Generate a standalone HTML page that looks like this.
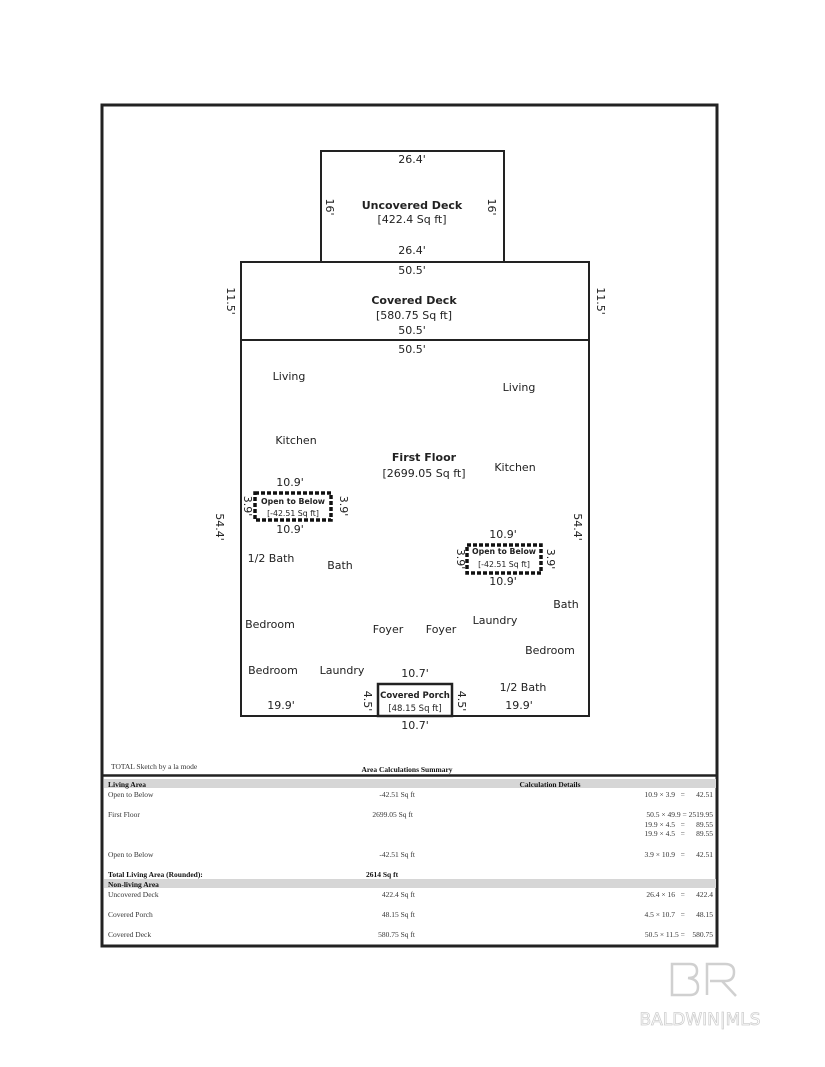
<!DOCTYPE html>
<html><head><style>
body{margin:0;background:#fff}
svg{display:block}
text{font-family:"DejaVu Sans",sans-serif;fill:#222;white-space:pre}
.s{font-family:"Liberation Serif",serif;font-size:7.5px;fill:#333}
</style></head><body>
<svg width="825" height="1067" viewBox="0 0 825 1067">
<rect x="102" y="105" width="615" height="841" fill="none" stroke="#222" stroke-width="3"/>
<g fill="none" stroke="#222" stroke-width="2">
<rect x="321" y="151" width="183" height="111"/>
<rect x="241" y="262" width="348" height="78"/>
<rect x="241" y="340" width="348" height="376"/>
<rect x="378" y="684" width="74" height="32" stroke-width="2.5"/>
</g>
<g fill="none" stroke="#111" stroke-width="3.5" stroke-dasharray="4 2">
<rect x="255" y="493" width="76" height="27"/>
<rect x="467" y="545" width="74" height="28"/>
</g>
<g font-size="11" text-anchor="middle">
<text x="412" y="163">26.4'</text>
<text x="412" y="254">26.4'</text>
<text x="412" y="274">50.5'</text>
<text x="412" y="334">50.5'</text>
<text x="412" y="353">50.5'</text>
<text x="290" y="486">10.9'</text>
<text x="290" y="533">10.9'</text>
<text x="503" y="538">10.9'</text>
<text x="503" y="585">10.9'</text>
<text x="415" y="677">10.7'</text>
<text x="415" y="729">10.7'</text>
<text x="281" y="709">19.9'</text>
<text x="519" y="709">19.9'</text>
<text x="412" y="223">[422.4 Sq ft]</text>
<text x="414" y="319">[580.75 Sq ft]</text>
<text x="424" y="477">[2699.05 Sq ft]</text>
<text font-weight="bold" x="412" y="209">Uncovered Deck</text>
<text font-weight="bold" x="414" y="304">Covered Deck</text>
<text font-weight="bold" x="424" y="461">First Floor</text>
<text font-weight="bold" font-size="7.8" x="293" y="504">Open to Below</text>
<text font-size="7.8" x="293" y="516">[-42.51 Sq ft]</text>
<text font-weight="bold" font-size="7.8" x="504" y="554">Open to Below</text>
<text font-size="7.8" x="504" y="567">[-42.51 Sq ft]</text>
<text font-weight="bold" font-size="8.5" x="415" y="698">Covered Porch</text>
<text font-size="8.5" x="415" y="711">[48.15 Sq ft]</text>
<text x="289" y="380">Living</text>
<text x="519" y="391">Living</text>
<text x="296" y="444">Kitchen</text>
<text x="515" y="471">Kitchen</text>
<text x="271" y="562">1/2 Bath</text>
<text x="340" y="569">Bath</text>
<text x="566" y="608">Bath</text>
<text x="270" y="628">Bedroom</text>
<text x="388" y="633">Foyer</text>
<text x="441" y="633">Foyer</text>
<text x="495" y="624">Laundry</text>
<text x="550" y="654">Bedroom</text>
<text x="273" y="674">Bedroom</text>
<text x="342" y="674">Laundry</text>
<text x="523" y="691">1/2 Bath</text>
</g>
<g font-size="11" text-anchor="middle">
<text transform="translate(326,207) rotate(90)">16'</text>
<text transform="translate(488,207) rotate(90)">16'</text>
<text transform="translate(227,301) rotate(90)">11.5'</text>
<text transform="translate(597,301) rotate(90)">11.5'</text>
<text transform="translate(216,527) rotate(90)">54.4'</text>
<text transform="translate(574,527) rotate(90)">54.4'</text>
<text transform="translate(244,506) rotate(90)">3.9'</text>
<text transform="translate(340,506) rotate(90)">3.9'</text>
<text transform="translate(457,559) rotate(90)">3.9'</text>
<text transform="translate(547,559) rotate(90)">3.9'</text>
<text transform="translate(364,701) rotate(90)">4.5'</text>
<text transform="translate(458,701) rotate(90)">4.5'</text>
</g>
<text class="s" x="111" y="769" font-size="5.5">TOTAL Sketch by a la mode</text>
<text class="s" x="407" y="772" text-anchor="middle" font-weight="bold" style="fill:#111">Area Calculations Summary</text>
<line x1="102" y1="775.5" x2="717" y2="775.5" stroke="#222" stroke-width="2.5"/>
<rect x="104" y="779" width="612" height="9" fill="#d6d6d6"/>
<rect x="104" y="879" width="612" height="9" fill="#d6d6d6"/>
<g class="s">
<text class="s" x="108" y="787" font-weight="bold" style="fill:#111">Living Area</text>
<text class="s" x="550" y="787" text-anchor="middle" font-weight="bold" style="fill:#111">Calculation Details</text>
<text class="s" x="108" y="797">Open to Below</text>
<text class="s" x="108" y="817">First Floor</text>
<text class="s" x="108" y="857">Open to Below</text>
<text class="s" x="108" y="877" font-weight="bold" style="fill:#111">Total Living Area (Rounded):</text>
<text class="s" x="108" y="887" font-weight="bold" style="fill:#111">Non-living Area</text>
<text class="s" x="108" y="897">Uncovered Deck</text>
<text class="s" x="108" y="917">Covered Porch</text>
<text class="s" x="108" y="937">Covered Deck</text>
<text class="s" x="366" y="877" font-weight="bold" style="fill:#111">2614 Sq ft</text>
</g>
<g class="s" text-anchor="end">
<text class="s" x="415" y="797">-42.51 Sq ft</text>
<text class="s" x="413" y="817">2699.05 Sq ft</text>
<text class="s" x="415" y="857">-42.51 Sq ft</text>
<text class="s" x="415" y="897">422.4 Sq ft</text>
<text class="s" x="415" y="917">48.15 Sq ft</text>
<text class="s" x="415" y="937">580.75 Sq ft</text>
<text class="s" x="713" y="797">10.9 × 3.9   =      42.51</text>
<text class="s" x="713" y="817">50.5 × 49.9 = 2519.95</text>
<text class="s" x="713" y="827">19.9 × 4.5   =      89.55</text>
<text class="s" x="713" y="836">19.9 × 4.5   =      89.55</text>
<text class="s" x="713" y="857">3.9 × 10.9   =      42.51</text>
<text class="s" x="713" y="897">26.4 × 16   =      422.4</text>
<text class="s" x="713" y="917">4.5 × 10.7   =      48.15</text>
<text class="s" x="713" y="937">50.5 × 11.5 =    580.75</text>
</g>
<g fill="none" stroke="#d0d0d0" stroke-width="2.5">
<path d="M672 964 H690 Q697 964 697 971 Q697 978 688 978 Q698 979 698 987 Q698 995 690 995 H672 Z"/>
<path d="M707 995 V964 H725 Q734 964 734 972 Q734 981 725 981 H710 M722 981 L736 996"/>
</g>
<text x="700" y="1025" text-anchor="middle" font-size="17" style="fill:none;stroke:#cfcfcf;stroke-width:0.8" font-family="Liberation Sans,sans-serif">BALDWIN|MLS</text>
</svg>
</body></html>
